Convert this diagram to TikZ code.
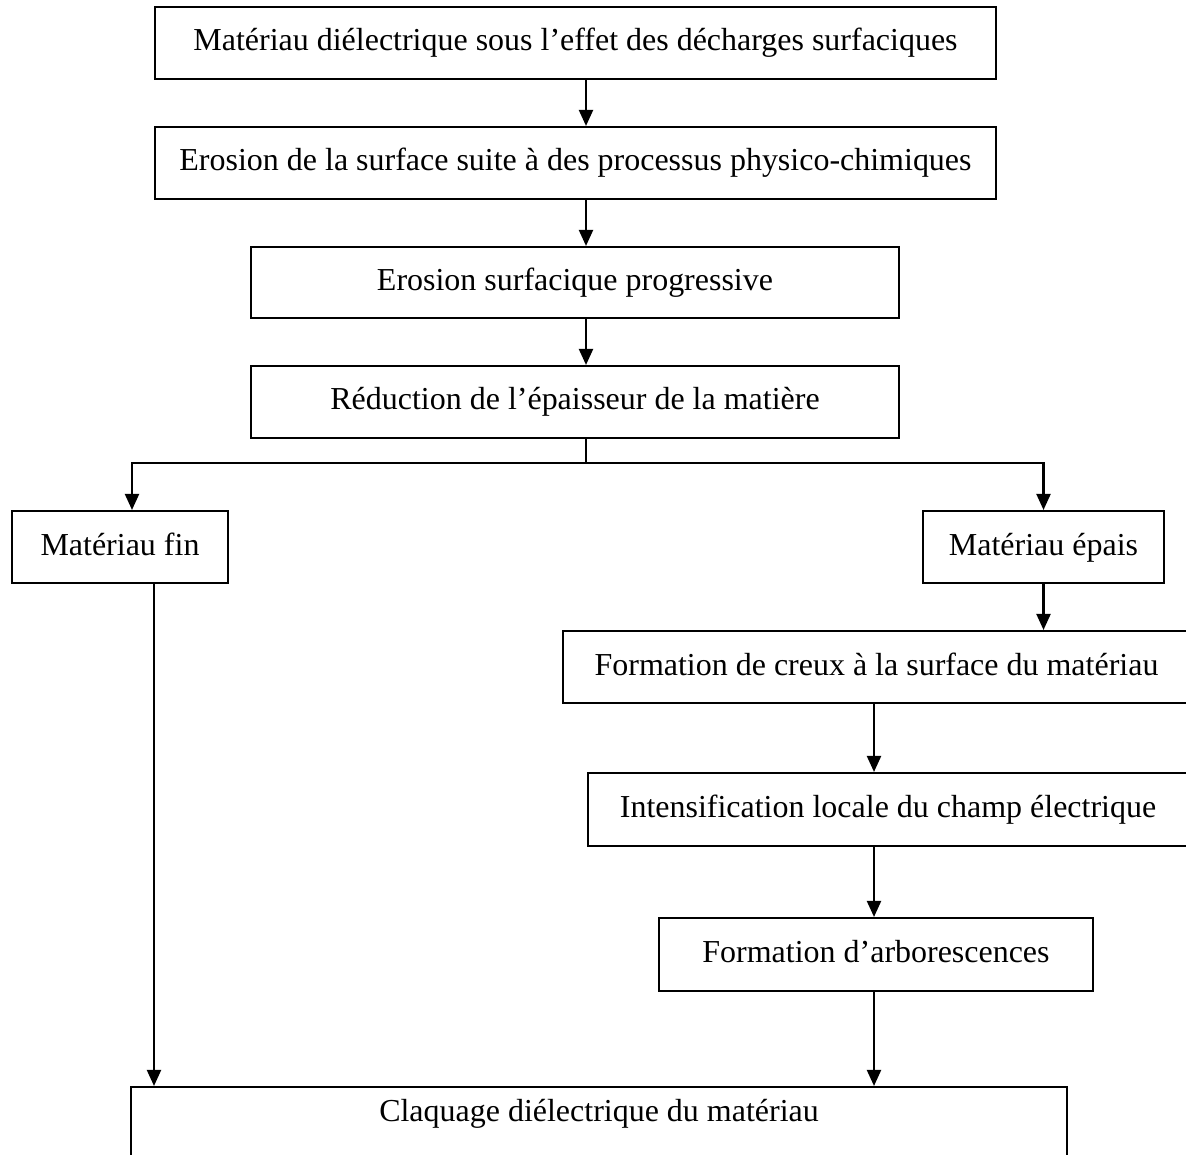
\documentclass[tikz,border=0pt]{standalone}
\usepackage{fontspec}
\setmainfont{Liberation Serif}
\usetikzlibrary{arrows.meta,positioning,calc}

\begin{document}
\begin{tikzpicture}[x=0.02cm, y=-0.02cm,
      box/.style={draw, align=center, font=\fontsize{18.2}{22}\selectfont,
                  line width=1.2pt, inner sep=0pt, text height=0.46cm, text depth=0.14cm,
                  minimum height=1.44cm},
      line/.style={line width=1.2pt},
      arr/.style={line, -{Triangle[length=0.32cm, width=0.28cm]}}]
    \useasboundingbox (0,0) rectangle (1186,1155);
    % main chain
    \node[box, minimum width=16.82cm] (diel) at (575.5,43) {Matériau diélectrique sous l’effet des décharges surfaciques};
    \node[box, minimum width=16.82cm] (eros) at (575.5,163) {Erosion de la surface suite à des processus physico-chimiques};
    \node[box, minimum width=12.96cm, minimum height=1.42cm] (prog) at (575,282.5) {Erosion surfacique progressive};
    \node[box, minimum width=12.96cm] (reduc) at (575,402) {Réduction de l’épaisseur de la matière};
    % two branches
    \node[box, minimum width=4.32cm] (fin) at (120,547) {Matériau fin};
    \node[box, minimum width=4.82cm] (epais) at (1043.5,547) {Matériau épais};
    \node[box, minimum width=12.54cm] (creux) at (876.5,667) {Formation de creux à la surface du matériau};
    \node[box, minimum width=12.00cm, minimum height=1.46cm] (champ) at (888,809.5) {Intensification locale du champ électrique};
    \node[box, minimum width=8.68cm, minimum height=1.46cm] (arbo) at (876,954.5) {Formation d’arborescences};
    \node[box, minimum width=18.72cm, minimum height=1.64cm, text height=0.17cm, text depth=0.43cm] (claq) at (599,1128) {Claquage diélectrique du matériau};
    % where the connectors run
    \coordinate (xmid) at (586,0);
    \coordinate (xleft) at (132,0);
    \coordinate (xfin) at (154,0);
    \coordinate (xright) at (874,0);
    \coordinate (ysplit) at (0,463);
    \draw[arr] (diel.south -| xmid) -- (eros.north -| xmid);
    \draw[arr] (eros.south -| xmid) -- (prog.north -| xmid);
    \draw[arr] (prog.south -| xmid) -- (reduc.north -| xmid);
    \draw[line] (reduc.south -| xmid) -- (xmid |- ysplit);
    \draw[arr] (xmid |- ysplit) -| (fin.north -| xleft);
    \draw[arr] (xmid |- ysplit) -| (epais.north);
    \draw[arr] (epais.south) -- (creux.north -| epais.south);
    \draw[arr] (creux.south -| xright) -- (champ.north -| xright);
    \draw[arr] (champ.south -| xright) -- (arbo.north -| xright);
    \draw[arr] (arbo.south -| xright) -- (claq.north -| xright);
    \draw[arr] (fin.south -| xfin) -- (claq.north -| xfin);
\end{tikzpicture}
\end{document}
